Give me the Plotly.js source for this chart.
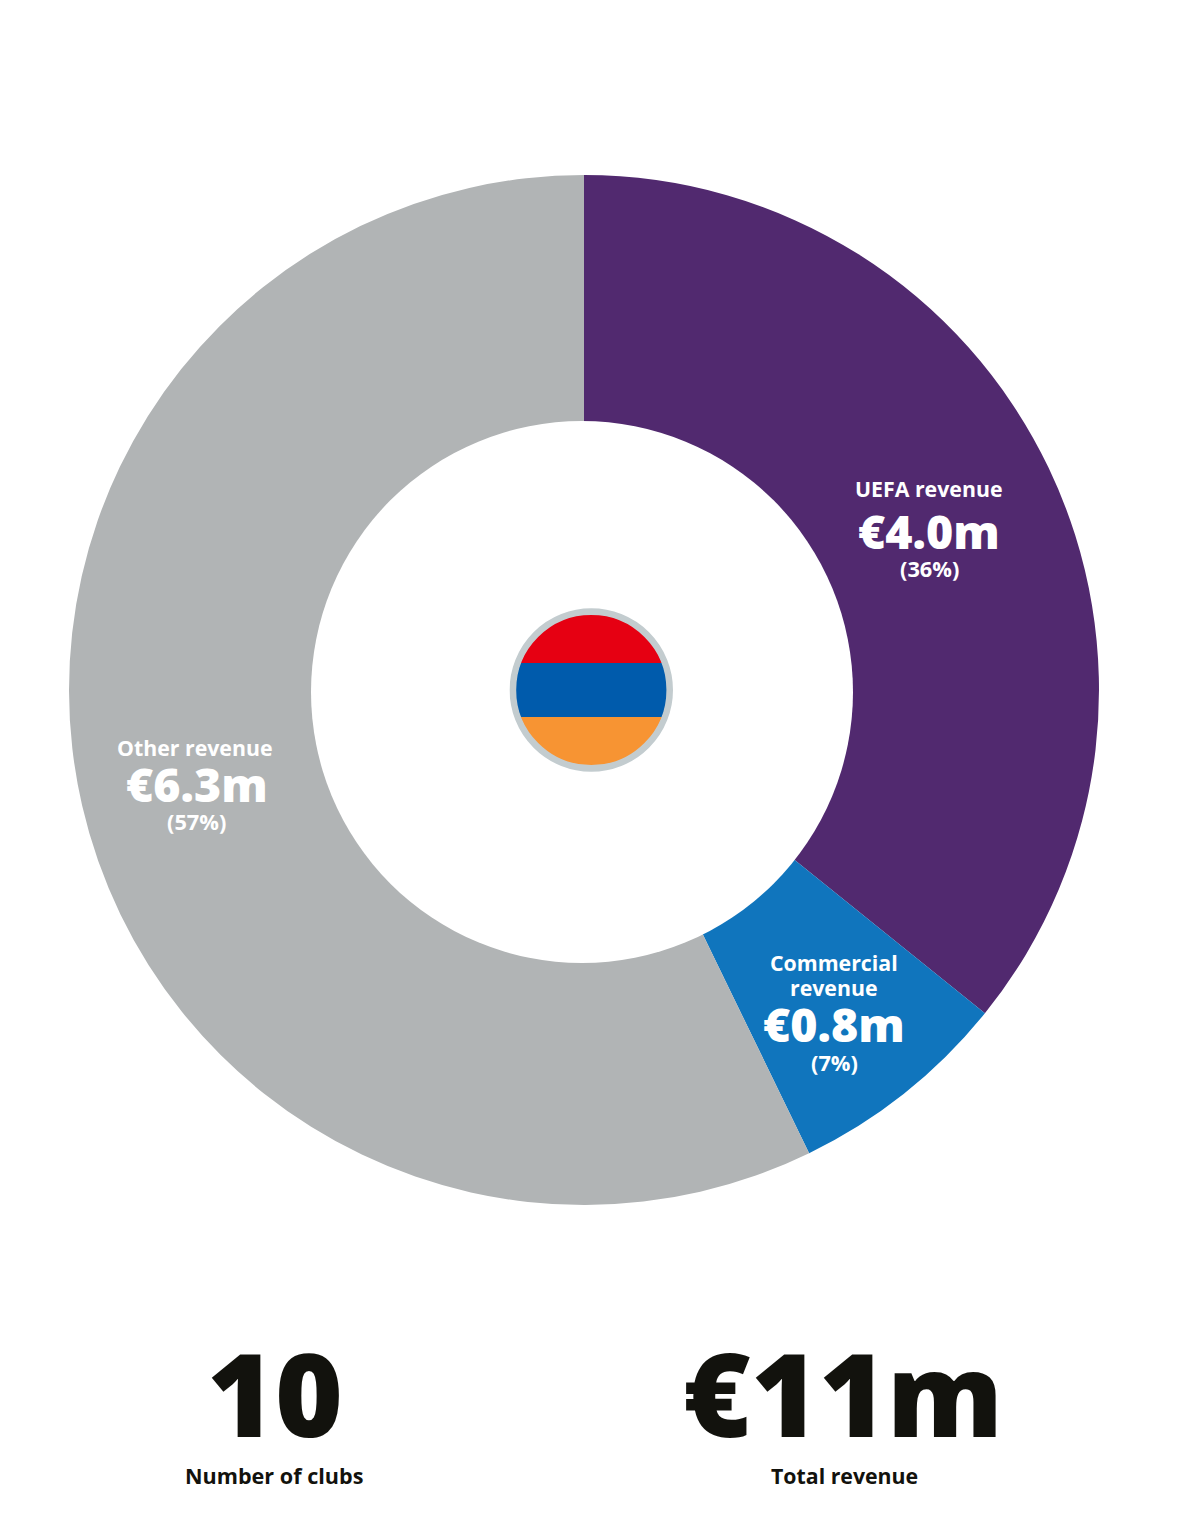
<!DOCTYPE html>
<html>
<head>
<meta charset="utf-8">
<script src="https://cdn.plot.ly/plotly-3.0.1.min.js"></script>
<style>html,body{margin:0;padding:0;background:#fff}#chart{width:1182px;height:1523px}</style>
</head>
<body>
<div id="chart"></div>
<script>
const W = 1182, H = 1523;
const FONT = '"Open Sans", "Noto Sans", sans-serif';

const categories = ['UEFA revenue', 'Commercial revenue', 'Other revenue'];
// slice sizes as measured off the ring, the printed shares are rounded
const sliceValues = [35.8, 7.0, 57.2];
const shares = [36, 7, 57];
const amounts = ['€4.0m', '€0.8m', '€6.3m'];
const colors = ['#51296f', '#1075bd', '#b1b4b5'];
const statValues = ['10', '€11m'];
const statLabels = ['Number of clubs', 'Total revenue'];
const flagColors = ['#e60012', '#005bac', '#f79433'];
const flagRing = '#c3cccf';

const px = x => x / W;
const py = y => 1 - y / H;

function note(text, x, y, size, color, weight = 700) {
  return {
    text, x: px(x), y: py(y), xref: 'paper', yref: 'paper',
    xanchor: 'center', yanchor: 'middle', showarrow: false,
    font: { family: FONT, size, color, weight },
  };
}

const annotations = [
  note(categories[0], 928.5, 488, 21.3, '#ffffff'),
  note(amounts[0], 929, 531, 46.5, '#ffffff', 800),
  note('(' + shares[0] + '%)', 929, 569, 21.8, '#ffffff'),
  note('Commercial', 834, 962, 21.3, '#ffffff'),
  note('revenue', 834, 987, 21.3, '#ffffff'),
  note(amounts[1], 834, 1024, 46.5, '#ffffff', 800),
  note('(' + shares[1] + '%)', 834.5, 1062, 21.8, '#ffffff'),
  note(categories[2], 194.5, 748, 21.3, '#ffffff'),
  note(amounts[2], 197, 784, 46.5, '#ffffff', 800),
  note('(' + shares[2] + '%)', 196.5, 821, 21.8, '#ffffff'),
  note(statValues[0], 275, 1392, 116, '#12120d', 800),
  note(statValues[1], 843, 1392, 116, '#12120d', 800),
  note(statLabels[0], 274, 1475, 21.6, '#12120d'),
  note(statLabels[1], 844, 1475, 21.3, '#12120d'),
];

// flag badge, drawn in its own 164 box (bands split at 55 and 109)
const flagSvg = `<svg xmlns="http://www.w3.org/2000/svg" width="164" height="164" viewBox="0 0 164 164">
<defs><clipPath id="c"><circle cx="82" cy="82" r="76"/></clipPath></defs>
<g clip-path="url(#c)">
<rect width="164" height="55" fill="${flagColors[0]}"/>
<rect y="55" width="164" height="54" fill="${flagColors[1]}"/>
<rect y="109" width="164" height="55" fill="${flagColors[2]}"/>
</g>
<circle cx="82" cy="82" r="78.4" fill="none" stroke="${flagRing}" stroke-width="6.6"/>
</svg>`;

const data = [{
  type: 'pie',
  labels: categories,
  values: sliceValues,
  marker: { colors, line: { width: 0 } },
  hole: 0.5,
  sort: false,
  direction: 'clockwise',
  rotation: 0,
  textinfo: 'none',
  hoverinfo: 'skip',
  domain: { x: [px(69), px(1099)], y: [py(1205), py(175)] },
}, {
  // the white centre sits slightly off the ring's centre in the original
  type: 'pie',
  labels: ['centre'],
  values: [1],
  marker: { colors: ['#ffffff'], line: { width: 0 } },
  textinfo: 'none',
  hoverinfo: 'skip',
  domain: { x: [px(311), px(853)], y: [py(963), py(421)] },
}];

const layout = {
  width: W,
  height: H,
  margin: { l: 0, r: 0, t: 0, b: 0 },
  paper_bgcolor: '#ffffff',
  showlegend: false,
  annotations,
  images: [{
    source: 'data:image/svg+xml;charset=utf-8,' + encodeURIComponent(flagSvg),
    xref: 'paper', yref: 'paper',
    x: px(591.3 - 82), y: py(690 - 82),
    sizex: 164 / W, sizey: 164 / H,
    xanchor: 'left', yanchor: 'top', sizing: 'stretch', layer: 'above',
  }],
};

Plotly.newPlot('chart', data, layout, { displayModeBar: false, staticPlot: true });
</script>
</body>
</html>
